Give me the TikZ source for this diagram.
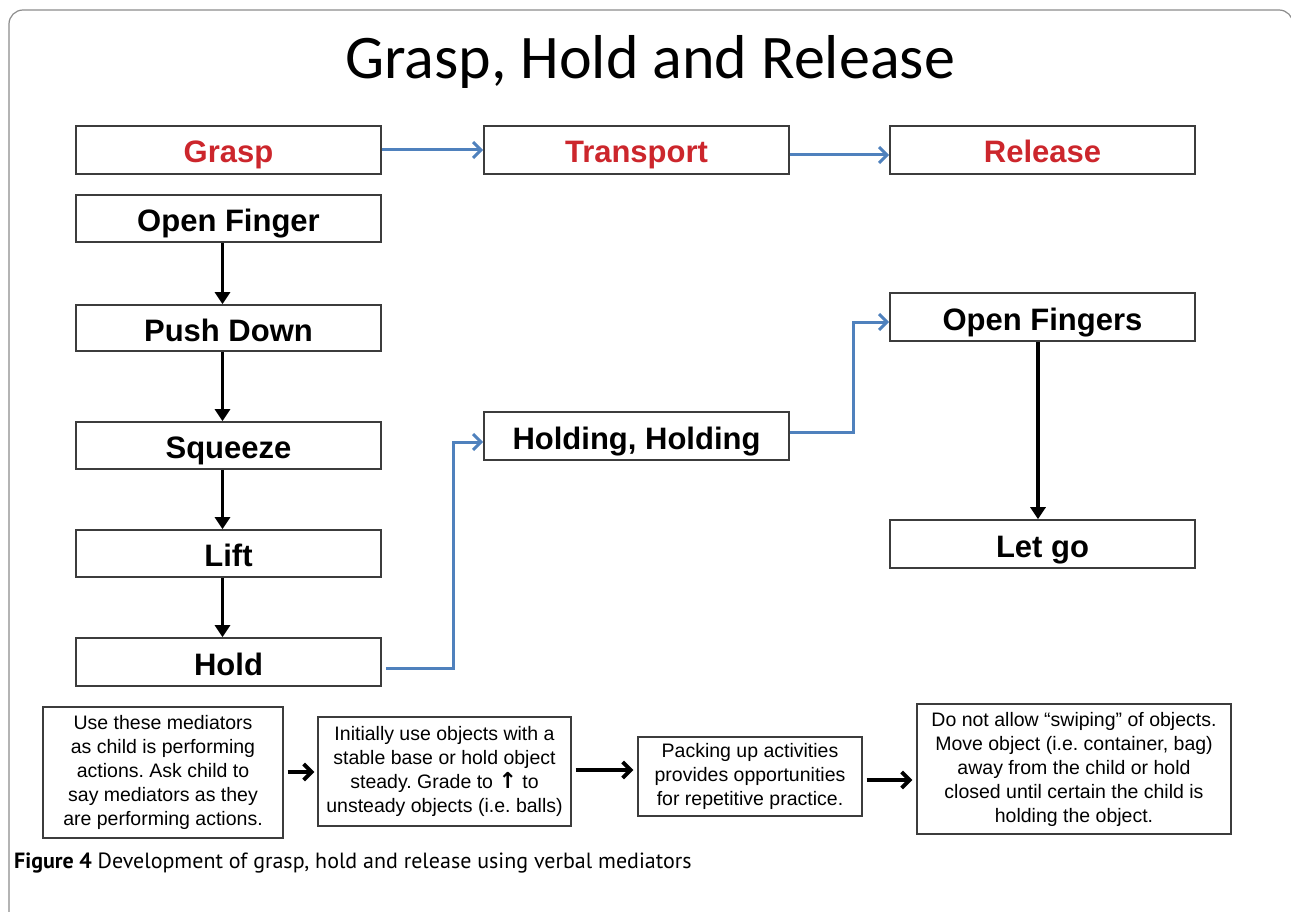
\documentclass[tikz,border=0pt]{standalone}
\usepackage{fontspec}
\setmainfont{Liberation Sans}
\newfontfamily\titlefont{Carlito}
\newfontfamily\capfont{PT Sans}
\newfontfamily\symfont{DejaVu Sans}
\usetikzlibrary{arrows.meta}
\definecolor{redtxt}{RGB}{204,38,44}
\definecolor{blueln}{RGB}{79,129,189}
\definecolor{boxln}{RGB}{60,60,60}
\definecolor{frameln}{RGB}{140,140,140}
\frenchspacing
\begin{document}
\begin{tikzpicture}[x=1pt,y=-1pt,
  stage/.style={draw=boxln,line width=1.6pt,minimum width=305pt,minimum height=48pt,inner sep=0pt,
    text height=26pt,text depth=0pt,font=\fontsize{31}{36}\selectfont\bfseries},
  head/.style={stage,text=redtxt},
  note/.style={draw=boxln,line width=1.4pt,inner sep=0pt,align=center,font=\fontsize{19.5}{24}\selectfont},
  blk/.style={line width=3.2pt,-{Triangle[length=12pt,width=15pt]}},
  blu/.style={draw=blueln,line width=3pt,-{Straight Barb[length=8pt,width=16pt]}},
  hblk/.style={line width=3.8pt,-{Straight Barb[length=8pt,width=16pt]}}]
\useasboundingbox (0,0) rectangle (1291,912);
\begin{scope}
  \clip (0,0) rectangle (1291,912);
  \draw[frameln,line width=1.2pt,rounded corners=14pt] (9,10) rectangle (1293,1100);
\end{scope}

\node[anchor=base] (title) at (650,79) {\titlefont\fontsize{62}{70}\selectfont Grasp, Hold and Release};

\node[head] (grasp) at (228.5,150) {Grasp};
\node[head] (transport) at (636.5,150) {Transport};
\node[head] (release) at (1042.5,150) {Release};

\node[stage,minimum height=47pt] (openf) at (228.5,218.5) {Open Finger};
\node[stage,minimum height=46pt] (push) at (228.5,328) {Push Down};
\node[stage,minimum height=47pt] (squeeze) at (228.5,445.5) {Squeeze};
\node[stage,minimum height=47pt] (lift) at (228.5,553.5) {Lift};
\node[stage] (hold) at (228.5,662) {Hold};
\node[stage] (holding) at (636.5,436) {Holding, Holding};
\node[stage] (openfs) at (1042.5,317) {Open Fingers};
\node[stage] (letgo) at (1042.5,544) {Let go};

\draw[blu] (grasp.east) -- (transport.west);
\draw[blu] ([yshift=-5pt]transport.east) -- ([yshift=-5pt]release.west);
\draw[blu] ([xshift=4pt,yshift=-6pt]hold.east) -- ++(68,0) |- ([yshift=-6pt]holding.west);
\draw[blu] ([yshift=4pt]holding.east) -- ++(64,0) |- ([yshift=-5pt]openfs.west);

\draw[blk] ([xshift=-6pt]openf.south) -- ([xshift=-6pt]push.north);
\draw[blk] ([xshift=-6pt]push.south) -- ([xshift=-6pt]squeeze.north);
\draw[blk] ([xshift=-6pt]squeeze.south) -- ([xshift=-6pt]lift.north);
\draw[blk] ([xshift=-6pt]lift.south) -- ([xshift=-6pt]hold.north);
\draw[blk] ([xshift=-4.5pt]openfs.south) -- ([xshift=-4.5pt]letgo.north);

\node[note,minimum width=240pt,minimum height=131pt] (n1) at (163,772.5)
  {Use these mediators\\as child is performing\\actions. Ask child to\\say mediators as they\\are performing actions.};
\node[note,minimum width=253pt,minimum height=109pt] (n2) at (444.5,771.5)
  {Initially use objects with a\\stable base or hold object\\steady. Grade to {\symfont\bfseries\fontsize{22}{20}\selectfont ↑} to\\unsteady objects (i.e. balls)};
\node[note,minimum width=224pt,minimum height=79pt] (n3) at (750,776.5)
  {Packing up activities\\provides opportunities\\for repetitive practice.};
\node[note,minimum width=314pt,minimum height=130pt] (n4) at (1074,769)
  {Do not allow “swiping” of objects.\\Move object (i.e. container, bag)\\away from the child or hold\\closed until certain the child is\\holding the object.};

\draw[hblk,shorten <=4pt,shorten >=3pt] ([yshift=0.5pt]n1.east) -- ([yshift=0.5pt]n1.east -| n2.west);
\draw[hblk,shorten <=4pt,shorten >=4pt] ([yshift=1.5pt]n2.east) -- ([yshift=1.5pt]n2.east -| n3.west);
\draw[hblk,shorten <=4pt,shorten >=4pt] ([yshift=-3.5pt]n3.east) -- ([yshift=-3.5pt]n3.east -| n4.west);

\node[anchor=base west,inner sep=0pt] (caption) at (14,868)
  {\capfont\fontsize{22}{26}\selectfont\textbf{Figure 4} Development of grasp, hold and release using verbal mediators};
\end{tikzpicture}
\end{document}
